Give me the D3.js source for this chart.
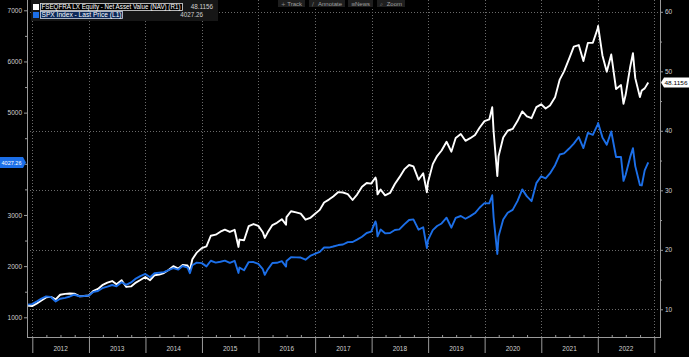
<!DOCTYPE html>
<html><head><meta charset="utf-8">
<script src="https://cdn.jsdelivr.net/npm/d3@7"></script>
<style>
html,body{margin:0;padding:0;background:#000;}
svg{display:block;}
text{font-family:"Liberation Sans",Arial,sans-serif;}
</style></head>
<body><svg id="c" width="689" height="357"></svg>
<script>
const dates = ["2011-11-30","2011-12-30","2012-01-31","2012-02-29","2012-03-30","2012-04-30","2012-05-31","2012-06-29","2012-07-31","2012-08-31","2012-09-28","2012-10-31","2012-11-30","2012-12-31",
"2013-01-31","2013-02-28","2013-03-28","2013-04-30","2013-05-31","2013-06-28","2013-07-31","2013-08-30","2013-09-30","2013-10-31","2013-11-29","2013-12-31",
"2014-01-31","2014-02-28","2014-03-31","2014-04-30","2014-05-30","2014-06-30","2014-07-31","2014-08-29","2014-09-30","2014-10-15","2014-10-31","2014-11-28","2014-12-31",
"2015-01-30","2015-02-27","2015-03-31","2015-04-30","2015-05-29","2015-06-30","2015-07-31","2015-08-25","2015-08-31","2015-09-30","2015-10-30","2015-11-30","2015-12-31",
"2016-01-29","2016-02-11","2016-02-29","2016-03-31","2016-04-29","2016-05-31","2016-06-27","2016-06-30","2016-07-29","2016-08-31","2016-09-30","2016-10-31","2016-11-30","2016-12-30",
"2017-01-31","2017-02-28","2017-03-31","2017-04-28","2017-05-31","2017-06-30","2017-07-31","2017-08-31","2017-09-29","2017-10-31","2017-11-30","2017-12-29",
"2018-01-26","2018-01-31","2018-02-08","2018-02-28","2018-03-29","2018-04-30","2018-05-31","2018-06-29","2018-07-31","2018-08-31","2018-09-28","2018-10-31","2018-11-30","2018-12-24","2018-12-31",
"2019-01-31","2019-02-28","2019-03-29","2019-04-30","2019-05-31","2019-06-28","2019-07-31","2019-08-30","2019-09-30","2019-10-31","2019-11-29","2019-12-31",
"2020-01-31","2020-02-19","2020-02-28","2020-03-23","2020-03-31","2020-04-30","2020-05-29","2020-06-30","2020-07-31","2020-08-31","2020-09-30","2020-10-30","2020-11-30","2020-12-31",
"2021-01-29","2021-02-26","2021-03-31","2021-04-30","2021-05-28","2021-06-30","2021-07-30","2021-08-31","2021-09-30","2021-10-29","2021-11-30","2021-12-31",
"2022-01-03","2022-01-31","2022-02-28","2022-03-29","2022-04-29","2022-05-31","2022-06-16","2022-06-30","2022-07-29","2022-08-16","2022-08-31","2022-09-30","2022-10-12","2022-10-31","2022-11-23"];

const spxValues = [1247,1258,1312,1366,1408,1398,1310,1362,1379,1407,1441,1412,1416,1426,
1498,1515,1569,1598,1631,1606,1686,1633,1682,1757,1806,1848,
1783,1860,1872,1884,1924,1960,1931,2003,1972,1862,2018,2068,2059,
1995,2105,2068,2086,2107,2063,2104,1867,1972,1920,2079,2080,2044,
1940,1829,1932,2060,2065,2097,1991,2099,2174,2171,2168,2126,2199,2239,
2279,2364,2363,2384,2412,2423,2470,2472,2519,2575,2648,2674,
2873,2824,2581,2714,2641,2648,2705,2718,2816,2902,2914,2712,2760,2351,2507,
2704,2784,2834,2946,2752,2942,2980,2926,2977,3038,3141,3231,
3226,3386,2954,2237,2585,2912,3044,3100,3271,3500,3363,3270,3622,3756,
3714,3811,3973,4181,4204,4298,4395,4523,4308,4605,4567,4766,
4797,4516,4374,4631,4132,4132,3667,3785,4130,4305,3955,3586,3577,3872,4027.26];

const navValues = [10.61,10.54,11.00,11.47,12.00,12.08,11.66,12.44,12.59,12.66,12.62,12.20,12.23,12.32,
13.11,13.42,14.05,14.47,14.75,14.20,14.89,13.76,13.85,14.49,14.92,15.44,
14.89,15.72,15.82,16.09,16.60,17.25,16.83,17.45,17.35,16.57,18.42,19.52,20.28,
20.57,22.36,22.54,23.04,23.38,23.00,23.36,20.48,21.72,21.61,23.98,24.33,24.02,
22.96,22.00,22.89,24.16,24.53,25.15,24.23,25.50,26.48,26.29,26.09,25.06,25.35,26.03,
26.71,27.95,28.44,28.96,29.70,29.63,29.36,28.37,29.28,30.60,31.23,31.12,
32.16,31.73,29.31,30.12,29.15,29.55,31.05,32.17,33.51,34.25,34.02,31.78,32.86,29.68,31.36,
34.40,35.76,36.69,38.16,36.49,38.80,39.46,38.32,38.76,39.29,40.51,41.62,
41.91,43.96,39.91,32.40,35.73,38.87,40.01,40.32,41.63,43.26,42.42,42.12,43.97,44.45,
43.76,44.25,45.65,48.61,49.99,52.14,54.15,54.41,51.72,54.78,54.79,57.17,
57.61,52.67,49.94,52.82,47.01,47.69,44.53,46.05,50.69,53.04,48.85,45.68,46.78,47.13,48.1156];

const years = [2012,2013,2014,2015,2016,2017,2018,2019,2020,2021,2022];
const leftTicks = [1000,2000,3000,5000,6000,7000];   // 4000 label is hidden by the last-price tag
const leftMinor = [1500,2500,3500,4000,4500,5500,6500];
const rightTicks = [10,20,30,40,50,60];
const rightMinor = [15,25,35,45,55];
const navName = "FSEQFRA LX Equity - Net Asset Value (NAV) (R1)";
const spxName = "SPX Index - Last Price (L1)";
const navLast = "48.1156";
const spxLast = "4027.26";
const toolbar = ["Track","Annotate","News","Zoom"];
const toolIcons = ["+","\u2215","\u2261","\u2315"];

const BLUE = "#1c6fe8";
const AXIS = "#9a9a9a";
const TXT = "#d0d0d0";
const svg = d3.select("#c");
const parse = d3.timeParse("%Y-%m-%d");
const pts = dates.map((d,i)=>({d:parse(d), s:spxValues[i], n:navValues[i]}));

const x = d3.scaleTime().domain([new Date(2012,0,1), new Date(2023,0,1)]).range([32.3, 654.3]);
const yL = d3.scaleLinear().domain([1000,7000]).range([317.3,10.3]);
const yR = d3.scaleLinear().domain([10,60]).range([309.3,11.8]);
const L = 27, R = 660, B = 337;

// grid
const grid = svg.append("g");
grid.selectAll("line.h").data(rightTicks).join("line")
  .attr("x1",L).attr("x2",R).attr("y1",d=>Math.round(yR(d))+0.5).attr("y2",d=>Math.round(yR(d))+0.5)
  .attr("stroke","#6a6a6a").attr("stroke-width",1).attr("stroke-dasharray","1,2");
const yearStarts = years.concat([2023]).map(y=>new Date(y,0,1));
grid.selectAll("line.v").data(yearStarts).join("line")
  .attr("x1",d=>Math.round(x(d))+0.5).attr("x2",d=>Math.round(x(d))+0.5).attr("y1",0).attr("y2",B)
  .attr("stroke","#6a6a6a").attr("stroke-width",1).attr("stroke-dasharray","1,2");

// lines
const lineN = d3.line().x(p=>x(p.d)).y(p=>yR(p.n));
const lineS = d3.line().x(p=>x(p.d)).y(p=>yL(p.s));
svg.append("path").datum(pts).attr("d",lineN).attr("fill","none").attr("stroke","#ffffff").attr("stroke-width",1.9).attr("stroke-linejoin","round");
svg.append("path").datum(pts).attr("d",lineS).attr("fill","none").attr("stroke",BLUE).attr("stroke-width",1.9).attr("stroke-linejoin","round");

function styleAxis(g){
  g.select(".domain").remove();
  g.selectAll(".tick line").attr("stroke",AXIS);
  g.selectAll(".tick text").attr("fill",TXT).style("font-size","6.5px").style("font-family","Liberation Sans, Arial, sans-serif");
}
// left axis
svg.append("g").attr("transform",`translate(${L},0)`).call(d3.axisLeft(yL).tickValues(leftTicks).tickSize(3).tickPadding(2).tickFormat(d3.format("d"))).call(styleAxis);
svg.append("g").attr("transform",`translate(${L},0)`).call(d3.axisLeft(yL).tickValues(leftMinor).tickSize(2).tickFormat("")).call(styleAxis);
// right axis
svg.append("g").attr("transform",`translate(${R},0)`).call(d3.axisRight(yR).tickValues(rightTicks).tickSize(3).tickPadding(2)).call(styleAxis);
svg.append("g").attr("transform",`translate(${R},0)`).call(d3.axisRight(yR).tickValues(rightMinor).tickSize(2).tickFormat("")).call(styleAxis);
// bottom: dividers + quarter ticks
svg.append("g").attr("transform",`translate(0,${B})`).call(d3.axisBottom(x).tickValues(yearStarts).tickSize(16).tickFormat("")).call(styleAxis);
const quarters = [];
years.forEach(y=>[3,6,9].forEach(m=>quarters.push(new Date(y,m,1))));
svg.append("g").attr("transform",`translate(0,${B})`).call(d3.axisTop(x).tickValues(quarters).tickSize(2).tickFormat("")).call(styleAxis);
svg.append("g").selectAll("text").data(years).join("text")
  .attr("x",y=>(x(new Date(y,0,1))+x(new Date(y+1,0,1)))/2).attr("y",351)
  .attr("text-anchor","middle").attr("fill",TXT).style("font-size","6.5px").text(d=>d);

// axis lines
svg.append("line").attr("x1",L+0.5).attr("x2",L+0.5).attr("y1",0).attr("y2",B+0.5).attr("stroke",AXIS);
svg.append("line").attr("x1",R+0.5).attr("x2",R+0.5).attr("y1",0).attr("y2",B+0.5).attr("stroke",AXIS);
svg.append("line").attr("x1",L).attr("x2",R+1).attr("y1",B+0.5).attr("y2",B+0.5).attr("stroke",AXIS);

// last value tags
const yS = yL(4027.26), yNv = yR(48.1156);
svg.append("path").attr("d",`M0,${yS-5.5} L23,${yS-5.5} L26,${yS} L23,${yS+5.5} L0,${yS+5.5} Z`).attr("fill",BLUE);
svg.append("text").attr("x",1.5).attr("y",yS+2.2).attr("fill","#fff").style("font-size","6px")
  .attr("textLength",20).attr("lengthAdjust","spacingAndGlyphs").text(spxLast);
svg.append("path").attr("d",`M661,${yNv} L664,${yNv-5} L689,${yNv-5} L689,${yNv+5} L664,${yNv+5} Z`).attr("fill","#fff");
svg.append("text").attr("x",664.5).attr("y",yNv+2.2).attr("fill","#000").style("font-size","6px")
  .attr("textLength",23).attr("lengthAdjust","spacingAndGlyphs").text(navLast);

// legend
const lg = svg.append("g");
lg.append("rect").attr("x",31).attr("y",0).attr("width",187).attr("height",21).attr("fill","#161616");
lg.append("rect").attr("x",33).attr("y",4).attr("width",6).attr("height",6).attr("fill","#fff");
lg.append("rect").attr("x",33).attr("y",12).attr("width",6).attr("height",6).attr("fill",BLUE);
lg.append("rect").attr("x",40.5).attr("y",3.5).attr("width",142).attr("height",7).attr("fill","#000").attr("stroke","#e0e0e0").attr("stroke-width",0.8);
lg.append("text").attr("x",41.5).attr("y",9.3).attr("fill","#fff").style("font-size","6.3px")
  .attr("textLength",139).attr("lengthAdjust","spacingAndGlyphs").text(navName);
lg.append("rect").attr("x",40.5).attr("y",11.5).attr("width",82).attr("height",7).attr("fill","#0d2a5a").attr("stroke","#cfd8e8").attr("stroke-width",0.8);
lg.append("text").attr("x",41.5).attr("y",17.3).attr("fill","#fff").style("font-size","6.3px")
  .attr("textLength",80).attr("lengthAdjust","spacingAndGlyphs").text(spxName);
lg.append("text").attr("x",213).attr("y",9.3).attr("text-anchor","end").attr("fill",TXT).style("font-size","6.3px").text(navLast);
lg.append("text").attr("x",203).attr("y",17.3).attr("text-anchor","end").attr("fill",TXT).style("font-size","6.3px").text(spxLast);

// toolbar
const tb = svg.append("g");
const tbx = [278,309,348,377], tbw = [27,36,25,28];
toolbar.forEach((t,i)=>{
  tb.append("rect").attr("x",tbx[i]).attr("y",0).attr("width",tbw[i]).attr("height",7).attr("fill","#1e1e1e");
  tb.append("text").attr("x",tbx[i]+3).attr("y",5.5).attr("fill","#8a8a8a").style("font-size","5.5px").style("font-family","DejaVu Sans").text(toolIcons[i]);
  tb.append("text").attr("x",tbx[i]+tbw[i]-3).attr("y",5.5).attr("text-anchor","end").attr("fill","#a0a0a0").style("font-size","6px").text(t);
});
</script></body></html>
